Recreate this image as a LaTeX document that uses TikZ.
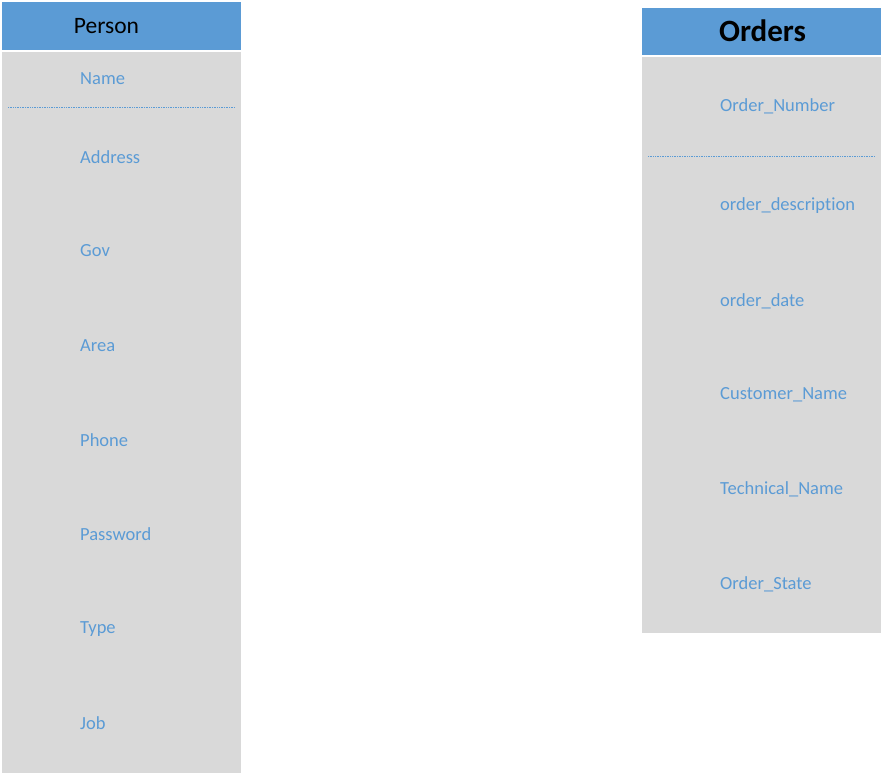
\documentclass[tikz,border=0pt]{standalone}
\usepackage{fontspec}
\setmainfont[Ligatures={NoCommon}]{Carlito}
\definecolor{headblue}{HTML}{5B9BD5}
\definecolor{bodygray}{HTML}{D9D9D9}
\tikzset{
    attr/.style={anchor=west,inner sep=0,text=headblue,font=\fontsize{18.5pt}{21pt}\selectfont},
    keyline/.style={headblue,densely dotted,line width=0.7pt}
}

\begin{document}
\begin{tikzpicture}[x=1pt,y=-1pt]
    \useasboundingbox (0,0) rectangle (883,775);
    \pgfmathsetmacro{\personleft}{2}
    \pgfmathsetmacro{\personright}{241}
    \pgfmathsetmacro{\ordersleft}{642}
    \pgfmathsetmacro{\ordersright}{881}
    % Person table
    \fill[headblue] (\personleft,2) rectangle (\personright,50);
    \fill[bodygray] (\personleft,52) rectangle (\personright,773);
    \node[inner sep=0,font=\fontsize{23.5pt}{26pt}\selectfont](personhead) at (106.5,26){Person};
    \node[attr](pname) at (80,79){Name};
    \draw[keyline] (8,107) -- (235,107);
    \foreach \y/\txt [count=\i] in {157/Address,251/Gov,346/Area,440/Phone,534/Password,629/Type,723/Job}
        \node[attr](pattr\i) at (80,\y){\txt};
    % Orders table
    \fill[headblue] (\ordersleft,8) rectangle (\ordersright,55);
    \fill[bodygray] (\ordersleft,57) rectangle (\ordersright,633);
    \node[inner sep=0,font=\bfseries\fontsize{31pt}{34pt}\selectfont](ordershead) at (762.5,31){Orders};
    \node[attr](onumber) at (720,106){Order\_Number};
    \draw[keyline] (648,156) -- (875,156);
    \foreach \y/\txt [count=\i] in {206/order\_description,301/order\_date,395/Customer\_Name,489/Technical\_Name,584/Order\_State}
        \node[attr](oattr\i) at (720,\y){\txt};
\end{tikzpicture}
\end{document}
